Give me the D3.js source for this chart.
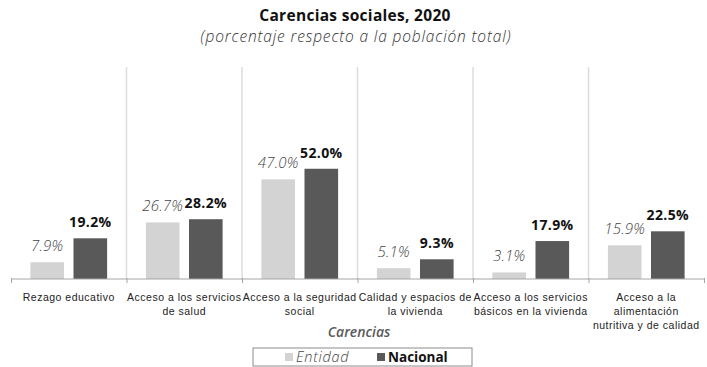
<!DOCTYPE html>
<html>
<head>
<meta charset="utf-8">
<script src="https://cdn.jsdelivr.net/npm/d3@7"></script>
<style>
  html, body { margin: 0; padding: 0; background: #fff; }
  svg { display: block; }
</style>
</head>
<body>
<svg id="chart" width="707" height="367"></svg>
<script>
// ---- data ----
const categories = [
  ["Rezago educativo"],
  ["Acceso a los servicios", "de salud"],
  ["Acceso a la seguridad", "social"],
  ["Calidad y espacios de", "la vivienda"],
  ["Acceso a los servicios", "básicos en la vivienda"],
  ["Acceso a la", "alimentación", "nutritiva y de calidad"]
];
const seriesNames = ["Entidad", "Nacional"];
const entidad = [7.9, 26.7, 47.0, 5.1, 3.1, 15.9];
const nacional = [19.2, 28.2, 52.0, 9.3, 17.9, 22.5];
const titleText = "Carencias sociales, 2020";
const subtitleText = "(porcentaje respecto a la población total)";
const axisTitle = "Carencias";

// ---- layout ----
const svg = d3.select("#chart");
const colors = { Entidad: "#d3d3d3", Nacional: "#595959" };
const plotLeft = 11, plotRight = 704, plotTop = 67, plotBottom = 279;

const idx = d3.range(categories.length);
const x = d3.scaleBand().domain(idx).range([plotLeft, plotRight]).paddingInner(0).paddingOuter(0);
const x1 = d3.scaleBand().domain(seriesNames).range([0, x.bandwidth()]).paddingInner(0.22).paddingOuter(0.45);
const y = d3.scaleLinear().domain([0, 100]).range([plotBottom, plotTop]);

// title
svg.append("text").attr("x", 355).attr("y", 21).attr("text-anchor", "middle")
  .attr("font-family", "'Open Sans', sans-serif").attr("font-weight", 700)
  .attr("font-size", 15.5).attr("letter-spacing", 0.3).attr("fill", "#111").text(titleText);
svg.append("text").attr("x", 356).attr("y", 42).attr("text-anchor", "middle")
  .attr("font-family", "'Open Sans', sans-serif").attr("font-style", "italic")
  .attr("font-weight", 300).attr("font-size", 15.5).attr("letter-spacing", 0.85)
  .attr("fill", "#333").text(subtitleText);

// gridlines at category boundaries
const boundaries = idx.map(i => x(i)).concat([plotRight]);
svg.append("g").selectAll("line").data(boundaries.slice(1, -1)).join("line")
  .attr("x1", d => d).attr("x2", d => d).attr("y1", plotTop).attr("y2", plotBottom)
  .attr("stroke", "#dcdcdc").attr("stroke-width", 1.5);

// bars
const data = idx.map(i => ({ i, Entidad: entidad[i], Nacional: nacional[i] }));
const groups = svg.append("g").selectAll("g").data(data).join("g")
  .attr("transform", d => `translate(${x(d.i)},0)`);
groups.selectAll("rect").data(d => seriesNames.map(k => ({ k, v: d[k] }))).join("rect")
  .attr("x", d => x1(d.k)).attr("width", x1.bandwidth())
  .attr("y", d => y(d.v)).attr("height", d => y(0) - y(d.v))
  .attr("fill", d => colors[d.k]);
groups.selectAll("text.val").data(d => seriesNames.map(k => ({ k, v: d[k] }))).join("text")
  .attr("class", "val")
  .attr("x", d => x1(d.k) + x1.bandwidth() / 2)
  .attr("y", d => y(d.v) - 11)
  .attr("text-anchor", "middle")
  .attr("font-family", "'Open Sans', sans-serif")
  .attr("font-size", d => d.k === "Entidad" ? 15 : 14)
  .attr("letter-spacing", d => d.k === "Entidad" ? 0.2 : 0.4)
  .attr("font-style", d => d.k === "Entidad" ? "italic" : "normal")
  .attr("font-weight", d => d.k === "Entidad" ? 300 : 700)
  .attr("fill", d => d.k === "Entidad" ? "#444" : "#111")
  .text(d => d.v.toFixed(1) + "%");

// axis
const xb = d3.scaleLinear().domain([plotLeft, plotRight]).range([plotLeft, plotRight]);
const axis = svg.append("g").attr("transform", `translate(0,${plotBottom})`)
  .call(d3.axisBottom(xb).tickValues(boundaries).tickSize(4).tickFormat(""));
axis.select(".domain").attr("stroke", "#a6a6a6").attr("d", `M${plotLeft},0H${plotRight}`);
axis.selectAll(".tick line").attr("stroke", "#a6a6a6").attr("y1", -1);

// category labels
const lbl = svg.append("g").selectAll("text").data(categories).join("text")
  .attr("text-anchor", "middle")
  .attr("font-family", "'Liberation Sans', Arial, sans-serif")
  .attr("font-size", 10.5).attr("letter-spacing", 0.5).attr("fill", "#222")
  .attr("x", (d, i) => x(i) + x.bandwidth() / 2).attr("y", 300.5);
lbl.selectAll("tspan").data(d => d).join("tspan")
  .attr("x", function () { return this.parentNode.getAttribute("x"); })
  .attr("dy", (d, j) => j === 0 ? 0 : 14.3)
  .text(d => d);

// axis title
svg.append("text").attr("x", 359).attr("y", 337).attr("text-anchor", "middle")
  .attr("font-family", "'Open Sans', sans-serif").attr("font-style", "italic")
  .attr("font-weight", 600).attr("font-size", 14).attr("fill", "#595959").text(axisTitle);

// legend
const lg = svg.append("g");
lg.append("rect").attr("x", 253).attr("y", 348).attr("width", 219).attr("height", 18)
  .attr("fill", "#fff").attr("stroke", "#8c8c8c").attr("stroke-width", 1);
const legendItems = [
  { k: "Entidad", sx: 285, tx: 296, style: "italic", weight: 300, fill: "#444", size: 14.5, ls: 0.7 },
  { k: "Nacional", sx: 377, tx: 388, style: "normal", weight: 700, fill: "#111", size: 13.5, ls: 0 }
];
legendItems.forEach(it => {
  lg.append("rect").attr("x", it.sx).attr("y", 353).attr("width", 8).attr("height", 8)
    .attr("fill", colors[it.k]);
  lg.append("text").attr("x", it.tx).attr("y", 362)
    .attr("font-family", "'Open Sans', sans-serif").attr("font-size", it.size)
    .attr("letter-spacing", it.ls)
    .attr("font-style", it.style).attr("font-weight", it.weight).attr("fill", it.fill)
    .text(it.k);
});
</script>
</body>
</html>
